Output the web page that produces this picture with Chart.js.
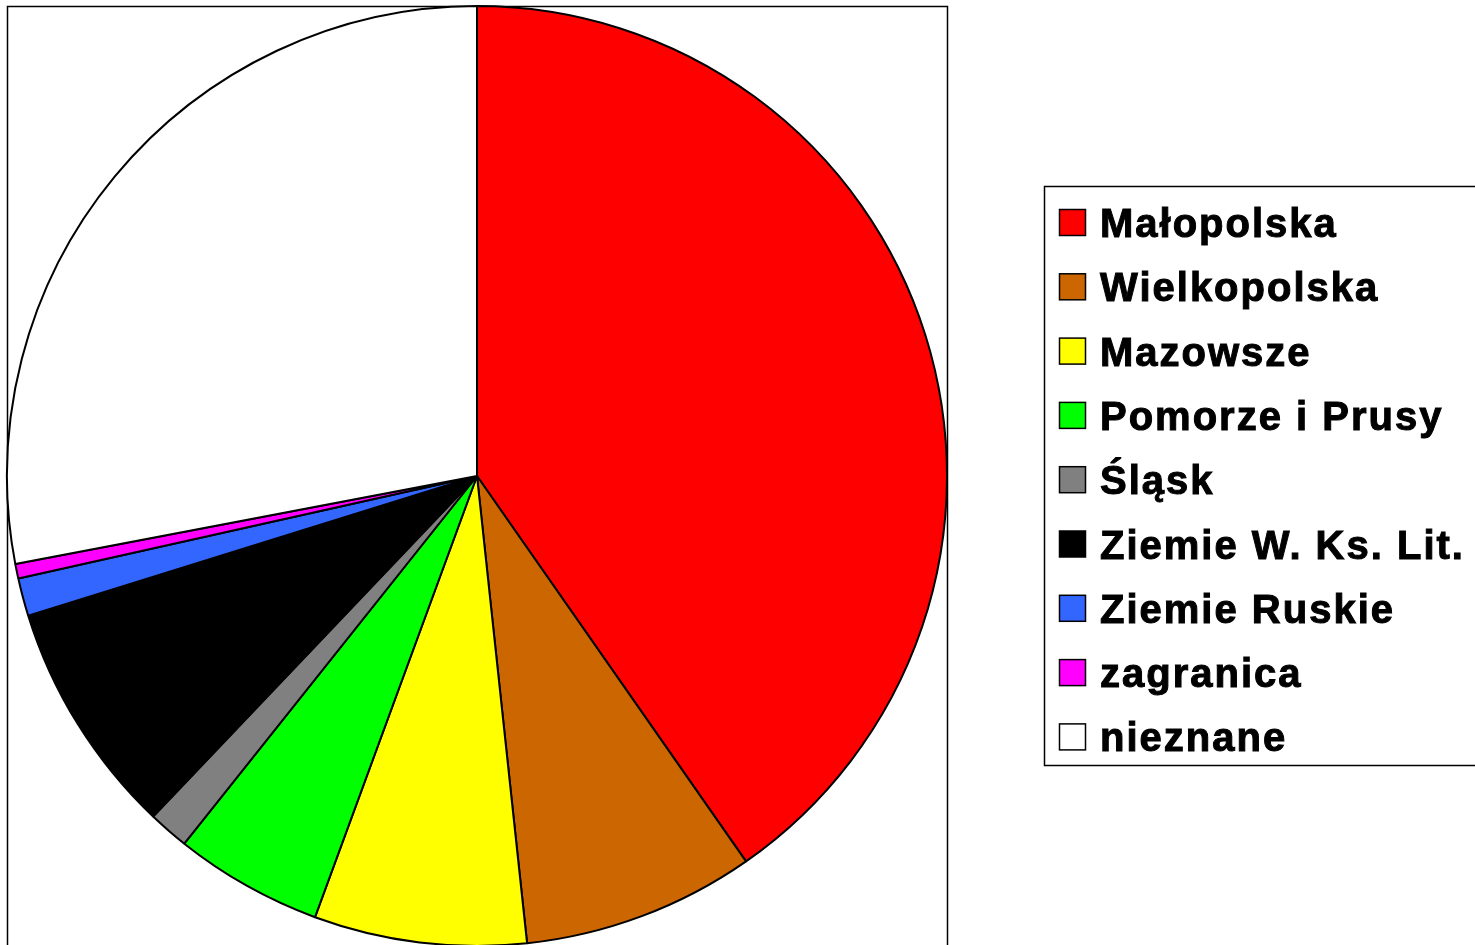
<!DOCTYPE html>
<html>
<head>
<meta charset="utf-8">
<script src="https://cdn.jsdelivr.net/npm/chart.js@4"></script>
<style>
	html, body { margin: 0; padding: 0; background: #fff; overflow: hidden; }
	#canvas { display: block; }
</style>
</head>
<body>
<canvas id="canvas" width="1475" height="960"></canvas>
<script>
// regions of origin (share in %)
const labels = ['Małopolska', 'Wielkopolska', 'Mazowsze', 'Pomorze i Prusy', 'Śląsk',
	'Ziemie W. Ks. Lit.', 'Ziemie Ruskie', 'zagranica', 'nieznane'];
const shares = [40.3, 8.0, 7.3, 5.1, 1.4, 8.1, 1.3, 0.5, 28.0];
const colors = ['#ff0000', '#cc6600', '#ffff00', '#00ff00', '#808080',
	'#000000', '#3366ff', '#ff00ff', '#ffffff'];

// frame round the plot area
const plotFrame = {
	id: 'plotFrame',
	beforeDatasetsDraw(chart) {
		const { ctx, chartArea } = chart;
		ctx.save();
		ctx.strokeStyle = '#000';
		ctx.lineWidth = 1.5;
		ctx.strokeRect(chartArea.left + 0.5, chartArea.top + 0.5,
			chartArea.right - chartArea.left, chartArea.bottom - chartArea.top);
		ctx.restore();
	}
};

// boxed legend on the right
const boxLegend = {
	id: 'boxLegend',
	afterDraw(chart) {
		const { ctx } = chart;
		const ds = chart.data.datasets[0];
		ctx.save();
		ctx.strokeStyle = '#000';
		ctx.lineWidth = 1.5;
		ctx.strokeRect(1044.5, 186.5, 460, 579);

		ctx.font = 'bold 40px "Liberation Sans", Arial, sans-serif';
		ctx.letterSpacing = '2px';
		ctx.textBaseline = 'alphabetic';
		chart.data.labels.forEach((label, i) => {
			const y = 222.5 + i * 64.3;
			ctx.fillStyle = ds.backgroundColor[i];
			ctx.fillRect(1059.5, y - 13, 26, 26);
			ctx.lineWidth = 1.5;
			ctx.strokeRect(1059.5, y - 13, 26, 26);
			ctx.fillStyle = '#000';
			ctx.fillText(label, 1100, y + 14.5);
			// a touch heavier, like the original
			ctx.lineWidth = 1;
			ctx.strokeText(label, 1100, y + 14.5);
		});
		ctx.restore();
	}
};

new Chart(document.getElementById('canvas'), {
	type: 'pie',
	data: {
		labels: labels,
		datasets: [{
			data: shares,
			backgroundColor: colors,
			borderColor: '#000',
			borderWidth: 2,
		}]
	},
	options: {
		responsive: false,
		animation: false,
		radius: 470,
		layout: {
			padding: { left: 7, top: 6, right: 528, bottom: 14 }
		},
		plugins: {
			legend: { display: false },
			tooltip: { enabled: false },
		},
	},
	plugins: [plotFrame, boxLegend],
});
</script>
</body>
</html>
